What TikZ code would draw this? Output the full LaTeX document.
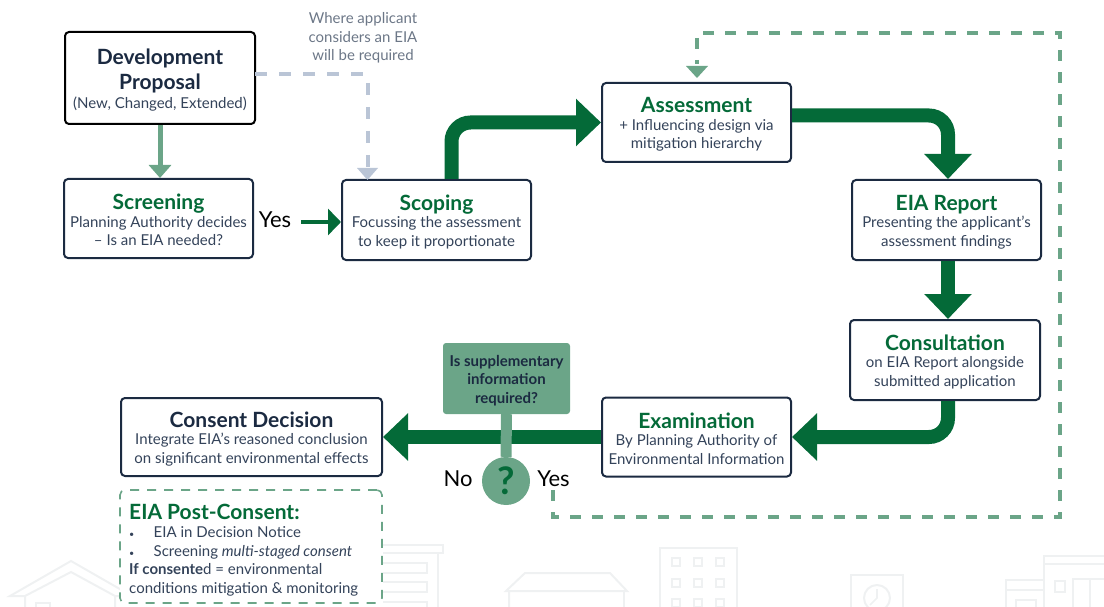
\documentclass[tikz,border=0pt]{standalone}
\usepackage{fontspec}
\setmainfont{Lato}
\usetikzlibrary{arrows.meta}
\definecolor{dgreen}{HTML}{046A38}
\definecolor{mgreen}{HTML}{6BA588}
\definecolor{navy}{HTML}{1B2A41}
\definecolor{bodyc}{HTML}{34435A}
\definecolor{grayt}{HTML}{6C7787}
\definecolor{lblue}{HTML}{BAC5D6}
\definecolor{faint}{HTML}{EFF1F2}
\newcommand{\ttl}[2][dgreen]{{\fontsize{21}{18.5}\selectfont\bfseries\color{#1}\rule{0pt}{19pt}#2}}
\begin{document}
\begin{tikzpicture}[x=1pt,y=-1pt,
  txt/.style={font=\fontsize{15}{18.5}\selectfont},
  box/.style={txt,text=bodyc,draw=navy,line width=2pt,fill=white,rounded corners=4pt,inner sep=0pt,align=center},
  thick arrow/.style={draw=dgreen,line width=14pt,-{Triangle[length=25pt,width=46pt]},rounded corners=19pt},
  dash green/.style={draw=mgreen,line width=4.5pt,dash pattern=on 11pt off 11pt},
  dash blue/.style={draw=lblue,line width=4.5pt,dash pattern=on 12pt off 12pt},
  bg/.style={draw=faint,line width=2pt,fill=none},
  plain/.style={txt,inner sep=0pt,align=center},
  biglabel/.style={plain,text=black,font=\fontsize{22}{24}\selectfont}]
\useasboundingbox (0,0) rectangle (1104,607);
% faint background buildings
\draw[bg] (25,607) -- (25,596) -- (10,596) -- (71,561) -- (132,596) -- (115,596) -- (115,607);
\draw[bg] (25,596) -- (71,572) -- (115,596);
\draw[bg] (36,607) -- (36,603) -- (50,603) -- (50,607);
\draw[bg] (383,545) -- (443,545) -- (443,553) -- (383,553);
\draw[bg] (438,553) -- (438,607);
\draw[bg] (383,563) -- (427,563) -- (427,573) -- (383,573);
\draw[bg] (383,582) -- (427,582) -- (427,592) -- (383,592);
\draw[bg] (383,602) -- (427,602) -- (427,607);
\draw[bg] (509,607) -- (509,591) -- (506,591) -- (525,573) -- (610,573) -- (627,591) -- (509,591);
\draw[bg] (624,591) -- (624,607);
\draw[bg] (660,607) -- (660,548) -- (737,548) -- (737,607);
\foreach \yy in {562,583,603}{\foreach \xx in {676,698,720}{\draw[bg,line width=1.6pt] (\xx-4,\yy-4) rectangle (\xx+4,\yy+4);}}
\draw[bg] (851,607) -- (851,575) -- (903,575) -- (903,607);
\draw[bg] (877,598) circle (13);
\draw[bg,line width=1.6pt] (877,589) -- (877,598) -- (870,605);
\draw[bg] (1006,607) -- (1006,580) -- (1044,580);
\draw[bg] (1006,590) -- (1044,590);
\draw[bg] (1044,607) -- (1044,556) -- (1104,556);
\draw[bg] (1044,564) -- (1104,564);
\draw[bg] (1055,581) rectangle (1065,592);
\draw[bg] (1073,607) -- (1073,579) -- (1104,579);
\draw[bg] (1090,579) -- (1090,607);
\draw[bg] (1016,607) -- (1016,600) -- (1036,600) -- (1036,607);

% nodes
\node[box,draw=black,minimum width=190pt,minimum height=92pt] (dev) at (160,78)
  {\ttl[navy]{Development}\\[2pt]\ttl[navy]{Proposal}\\[0pt](New, Changed, Extended)};
\node[box,minimum width=189pt,minimum height=79pt] (screen) at (158.5,218.5)
  {\ttl{Screening}\\[-1pt]Planning Authority decides\\– Is an EIA needed?};
\node[box,minimum width=189pt,minimum height=80pt] (scope) at (436.5,220)
  {\ttl{Scoping}\\[-1pt]Focussing the assessment\\to keep it proportionate};
\node[box,minimum width=189pt,minimum height=79pt] (assess) at (696.5,122.5)
  {\ttl{Assessment}\\[-1pt]+ Influencing design via\\mitigation hierarchy};
\node[box,minimum width=189pt,minimum height=80pt] (report) at (946.5,220)
  {\ttl{EIA Report}\\[-1pt]Presenting the applicant’s\\assessment findings};
\node[box,minimum width=190pt,minimum height=80pt] (consult) at (945,360)
  {\ttl{Consultation}\\[-1pt]on EIA Report alongside\\submitted application};
\node[box,minimum width=189pt,minimum height=79pt] (exam) at (696.5,437)
  {\ttl{Examination}\\[-1pt]By Planning Authority of\\Environmental Information};
\node[box,minimum width=261pt,minimum height=78pt] (consent) at (251.5,437)
  {\ttl[navy]{Consent Decision}\\[-1pt]Integrate EIA’s reasoned conclusion\\on significant environmental effects};

% thick connectors
\draw[thick arrow] ([xshift=15pt]scope.north) |- (assess.west);
\draw[thick arrow] ([yshift=7pt]assess.east) -| ([xshift=1.5pt]report.north);
\draw[thick arrow] ([xshift=1.5pt]report.south) -- ([xshift=1.5pt]report.south |- consult.north);
\draw[thick arrow] ([xshift=3pt]consult.south) |- (exam.east);
\draw[thick arrow] (exam.west) -- (consent.east);
\draw[draw=dgreen,line width=4pt,-{Triangle[length=13pt,width=26pt]}] (301,222) -- (scope.west |- 222,222);
\draw[draw=mgreen,line width=5pt,-{Triangle[length=13pt,width=22pt]}] (dev.south) -- (dev.south |- screen.north);

% dashed connectors
\coordinate (blue bend) at (368,74);
\coordinate (blue end) at (368,168);
\draw[dash blue,rounded corners=4pt] (255,74) -- (blue bend) -- (blue end);
\fill[lblue] (357,168) -- (378,168) -- (367.5,180) -- cycle;
\coordinate (loop start) at (553,490);
\coordinate (loop a) at (553,517);
\coordinate (loop b) at (1060,517);
\coordinate (loop c) at (1060,33);
\coordinate (loop d) at (697,33);
\coordinate (loop end) at (697,64);
\draw[dash green] (loop start) -- (loop a) -- (loop b) -- (loop c) -- (loop d) -- (loop end);
\fill[mgreen] (686,66) -- (708,66) -- (697,78) -- cycle;

% supplementary question
\node[plain,fill=mgreen,rounded corners=3pt,minimum width=127pt,minimum height=71pt,text=navy,font=\fontsize{15}{18.5}\selectfont\bfseries] (supp) at (506.5,378.5)
  {\rule[-4pt]{0pt}{0pt}\rule{0pt}{15pt}Is supplementary\\information\\required?};
\node[circle,fill=mgreen,minimum size=48pt,inner sep=0pt,text=dgreen,font=\fontsize{38}{38}\selectfont\bfseries] (quest) at (506,481) {?};
\draw[mgreen,line width=11pt] (supp.south) -- (quest.north);

% labels
\node[biglabel] (yes1) at (275,220) {Yes};
\node[biglabel] (no) at (458,479) {No};
\node[biglabel] (yes2) at (553.5,479) {Yes};
\node[plain,text=grayt] (where) at (363,38)
  {Where applicant\\considers an EIA\\will be required};

% post-consent box
\node[draw=mgreen,line width=1.6pt,dash pattern=on 9pt off 8pt,fill=white,rounded corners=5pt,
  minimum width=262pt,minimum height=113pt,inner sep=0pt] (post) at (251,546.5) {};
\node[plain,text=bodyc,align=left,anchor=north west] (posttext) at (129,500)
  {\ttl{EIA Post-Consent:}\\
   \makebox[24.5pt][l]{\fontsize{9}{9}\selectfont •}EIA in Decision Notice\\
   \makebox[24.5pt][l]{\fontsize{9}{9}\selectfont •}Screening \textit{multi-staged consent}\\
   \textbf{If consente}d = environmental\\
   conditions mitigation \& monitoring};
\end{tikzpicture}
\end{document}
